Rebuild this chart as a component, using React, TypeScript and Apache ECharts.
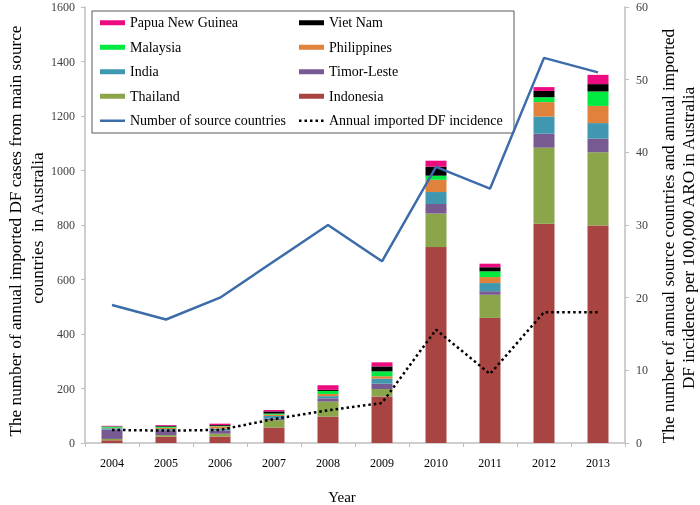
import React, { useEffect, useRef } from "react";
import * as echarts from "echarts";

const years = ["2004", "2005", "2006", "2007", "2008", "2009", "2010", "2011", "2012", "2013"];
const indonesia = [10, 23, 24, 57, 97, 171, 719, 459, 805, 798];
const thailand = [5, 6, 10, 27, 55, 27, 123, 85, 279, 269];
const timorLeste = [34, 18, 12, 6, 12, 20, 35, 13, 51, 50];
const india = [5, 4, 7, 9, 8, 18, 44, 30, 63, 57];
const philippines = [2, 5, 8, 5, 8, 9, 45, 22, 53, 63];
const malaysia = [4, 4, 2, 4, 11, 18, 15, 21, 18, 53];
const vietNam = [1, 3, 3, 8, 4, 18, 33, 15, 23, 27];
const papuaNewGuinea = [2, 3, 5, 5, 17, 15, 22, 13, 14, 34];
const sourceCountries = [19, 17, 20, 25, 30, 25, 38, 35, 53, 51];
const incidence = [1.8, 1.7, 1.8, 3.3, 4.5, 5.5, 15.6, 9.5, 18, 18];

const SERIF = "'Liberation Serif', 'Times New Roman', serif";

const SOLID_ICON = "path://M0,0h25v2.5h-25z";
const DOTTED_ICON =
  "path://M0,0h2.5v2.5h-2.5z M5.5,0h2.5v2.5h-2.5z M11,0h2.5v2.5h-2.5z M16.5,0h2.5v2.5h-2.5z M22,0h2.5v2.5h-2.5z M25,0h0v2.5h0z";

export default function App() {
  const ref = useRef<HTMLDivElement>(null);
  useEffect(() => {
    if (!ref.current) return;
    const chart = echarts.init(ref.current, undefined, { renderer: "svg" });
    const barDefs: [string, number[], string][] = [
      ["Indonesia", indonesia, "#A84442"],
      ["Thailand", thailand, "#8AA54A"],
      ["Timor-Leste", timorLeste, "#775A91"],
      ["India", india, "#3F98B0"],
      ["Philippines", philippines, "#E0823C"],
      ["Malaysia", malaysia, "#00EA40"],
      ["Viet Nam", vietNam, "#000000"],
      ["Papua New Guinea", papuaNewGuinea, "#EC0C80"],
    ];
    const barSeries = barDefs.map(([name, data, color]) => ({
      name,
      type: "bar",
      stack: "cases",
      data,
      barWidth: 21,
      itemStyle: { color },
    }));
    const legendCommon = {
      orient: "vertical",
      itemWidth: 25,
      itemHeight: 5,
      itemGap: 9,
      textStyle: { fontFamily: SERIF, fontSize: 14, color: "#000", lineHeight: 15.5 },
      selectedMode: false,
    };
    const titleStyle = (text: string) => ({
      text,
      fontFamily: SERIF,
      fontSize: 17.2,
      fill: "#000",
      align: "center",
      verticalAlign: "middle",
    });
    chart.setOption({
      animation: false,
      grid: { left: 85, right: 75, top: 7, bottom: 62 },
      legend: [
        {
          ...legendCommon,
          left: 95,
          top: 10,
          data: [
            { name: "Papua New Guinea", icon: "rect" },
            { name: "Malaysia", icon: "rect" },
            { name: "India", icon: "rect" },
            { name: "Thailand", icon: "rect" },
            { name: "Number of source countries", icon: SOLID_ICON, itemStyle: { borderWidth: 0 } },
          ],
        },
        {
          ...legendCommon,
          left: 294,
          top: 10,
          data: [
            { name: "Viet Nam", icon: "rect" },
            { name: "Philippines", icon: "rect" },
            { name: "Timor-Leste", icon: "rect" },
            { name: "Indonesia", icon: "rect" },
            { name: "Annual imported DF incidence", icon: DOTTED_ICON, itemStyle: { borderWidth: 0 } },
          ],
        },
      ],
      xAxis: {
        type: "category",
        data: years,
        axisLine: { lineStyle: { color: "#BFBFBF", width: 1.5 } },
        axisTick: { show: true, length: 4, lineStyle: { color: "#BFBFBF" } },
        axisLabel: { fontFamily: SERIF, fontSize: 12, color: "#000", margin: 14 },
      },
      yAxis: [
        {
          type: "value",
          min: 0,
          max: 1600,
          interval: 200,
          splitLine: { show: false },
          axisLine: { show: true, lineStyle: { color: "#BFBFBF", width: 1.5 } },
          axisTick: { show: true, length: 4, lineStyle: { color: "#BFBFBF" } },
          axisLabel: {
            fontFamily: SERIF,
            fontSize: 12,
            color: "#404040",
            margin: 10,
            formatter: (v: number) => String(v),
          },
        },
        {
          type: "value",
          min: 0,
          max: 60,
          interval: 10,
          position: "right",
          splitLine: { show: false },
          axisLine: { show: true, lineStyle: { color: "#BFBFBF", width: 1.5 } },
          axisTick: { show: true, length: 4, lineStyle: { color: "#BFBFBF" } },
          axisLabel: {
            fontFamily: SERIF,
            fontSize: 12,
            color: "#404040",
            margin: 11,
            formatter: (v: number) => String(v),
          },
        },
      ],
      series: [
        ...barSeries,
        {
          name: "Number of source countries",
          type: "line",
          yAxisIndex: 1,
          data: sourceCountries,
          symbol: "none",
          lineStyle: { color: "#3D6CAA", width: 2.5 },
          itemStyle: { color: "#3D6CAA" },
          z: 5,
        },
        {
          name: "Annual imported DF incidence",
          type: "line",
          yAxisIndex: 1,
          data: incidence,
          symbol: "none",
          lineStyle: { color: "#000", width: 2.5, type: [2.5, 3] },
          itemStyle: { color: "#000" },
          z: 6,
        },
      ],
      graphic: [
        {
          type: "rect",
          shape: { x: 92, y: 11, width: 422, height: 122 },
          style: { fill: "#fff", stroke: "#595959", lineWidth: 1 },
          z: -1,
          silent: true,
        },
        { type: "text", x: 15, y: 231, rotation: Math.PI / 2, style: titleStyle("The number of annual imported DF cases from main source") },
        { type: "text", x: 37, y: 228, rotation: Math.PI / 2, style: titleStyle("countries  in Australia") },
        { type: "text", x: 668, y: 236, rotation: Math.PI / 2, style: titleStyle("The number of annual source countries and annual imported") },
        { type: "text", x: 688, y: 238, rotation: Math.PI / 2, style: titleStyle("DF incidence per 100,000 ARO in Australia") },
        {
          type: "text",
          x: 342,
          y: 497,
          style: {
            text: "Year",
            fontFamily: SERIF,
            fontSize: 15,
            fill: "#000",
            align: "center",
            verticalAlign: "middle",
          },
        },
      ],
    });
    return () => chart.dispose();
  }, []);
  return <div ref={ref} style={{ position: "fixed", left: 0, top: 0, width: 700, height: 505 }} />;
}
